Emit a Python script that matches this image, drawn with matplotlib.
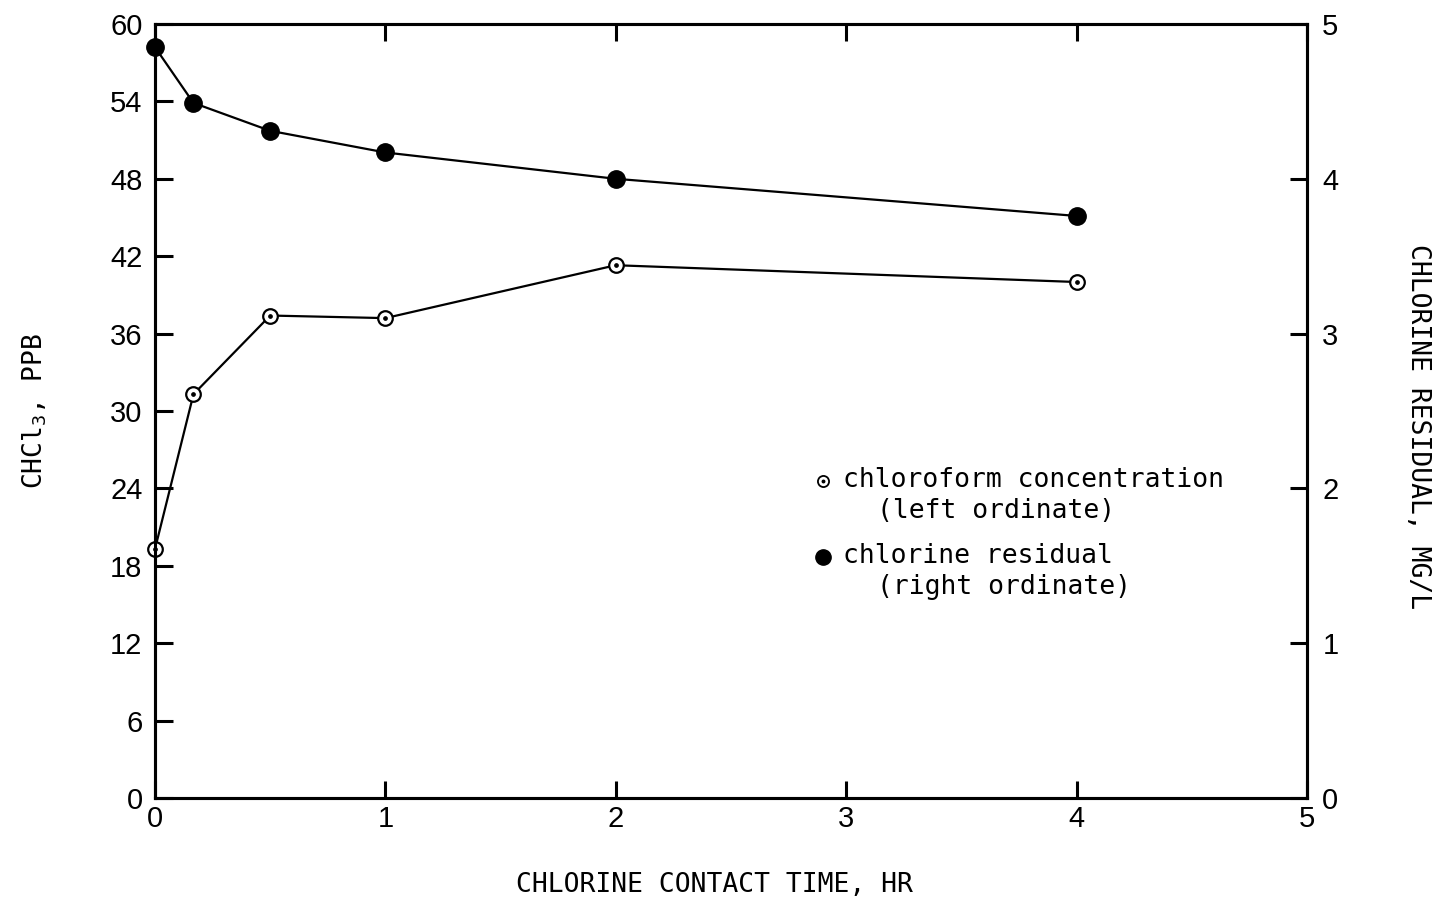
import matplotlib
matplotlib.use("Agg")
import matplotlib.pyplot as plt

# Data
time_hr = [0.0, 0.167, 0.5, 1.0, 2.0, 4.0]
chloroform_ppb = [19.3, 31.3, 37.4, 37.2, 41.3, 40.0]
chlorine_residual = [4.85, 4.49, 4.31, 4.17, 4.00, 3.76]
x_ticks = [0, 1, 2, 3, 4, 5]
left_ticks = [0, 6, 12, 18, 24, 30, 36, 42, 48, 54, 60]
right_ticks = [0, 1, 2, 3, 4, 5]

plt.rcParams['mathtext.default'] = 'regular'
mono = 'DejaVu Sans Mono'
sans = ['Liberation Sans', 'DejaVu Sans']

fig = plt.figure(figsize=(14.35, 9.01), dpi=100)
ax = fig.add_axes([155/1435, 1-798/901, (1307-155)/1435, (798-24)/901])
ax2 = ax.twinx()

# chloroform (left)
ax.plot(time_hr, chloroform_ppb, color='black', lw=1.6, marker='o', ms=10.5,
        mfc='white', mec='black', mew=1.6, zorder=3, clip_on=False)
ax.plot(time_hr, chloroform_ppb, ls='none', marker='o', ms=2.4,
        color='black', zorder=4, clip_on=False)
# chlorine residual (right)
ax2.plot(time_hr, chlorine_residual, color='black', lw=1.6, marker='o', ms=12.5,
         mfc='black', mec='black', zorder=3, clip_on=False)

ax.set_xlim(0, 5)
ax.set_ylim(0, 60)
ax2.set_ylim(0, 5)
ax.set_xticks(x_ticks)
ax.set_yticks(left_ticks)
ax2.set_yticks(right_ticks)

for a in (ax, ax2):
    for s in a.spines.values():
        s.set_linewidth(2.2)

ax.tick_params(axis='y', direction='in', length=13, width=2.2, pad=9,
               labelsize=21, left=True, right=False)
ax.tick_params(axis='x', direction='in', length=12, width=2.2, pad=5,
               labelsize=21, top=True, bottom=True)
ax2.tick_params(axis='y', direction='in', length=12, width=2.2, pad=11,
                labelsize=21)
for lab in ax.get_xticklabels() + ax.get_yticklabels() + ax2.get_yticklabels():
    lab.set_fontfamily(sans)

# Axis labels
fig.text(714/1435, 1-885/901, 'CHLORINE CONTACT TIME, HR', family=mono,
         fontsize=19, ha='center', va='center')
fig.text(35/1435, 1-411/901, 'CHCl$_3$, PPB', family=mono, fontsize=19,
         rotation=90, ha='center', va='center')
fig.text(1418/1435, 1-427/901, 'CHLORINE RESIDUAL, MG/L', family=mono,
         fontsize=19, rotation=270, ha='center', va='center')

# Legend (manual)
def ax_pos(px, py):
    return ((px-155)/(1307-155), (798-py)/(798-24))

mx, my = ax_pos(823, 481)
ax.plot([mx], [my], transform=ax.transAxes, marker='o', ms=8, mfc='white',
        mec='black', mew=1.3, clip_on=False)
ax.plot([mx], [my], transform=ax.transAxes, marker='o', ms=1.8,
        color='black', clip_on=False)
mx2, my2 = ax_pos(823, 557)
ax.plot([mx2], [my2], transform=ax.transAxes, marker='o', ms=11,
        color='black', clip_on=False)

for txt, px, py in [('chloroform concentration', 843, 480),
                    ('(left ordinate)', 877, 511),
                    ('chlorine residual', 843, 556),
                    ('(right ordinate)', 877, 587)]:
    tx, ty = ax_pos(px, py)
    ax.text(tx, ty, txt, transform=ax.transAxes, family=mono, fontsize=19,
            ha='left', va='center')

fig.savefig('out.png', dpi=100)
